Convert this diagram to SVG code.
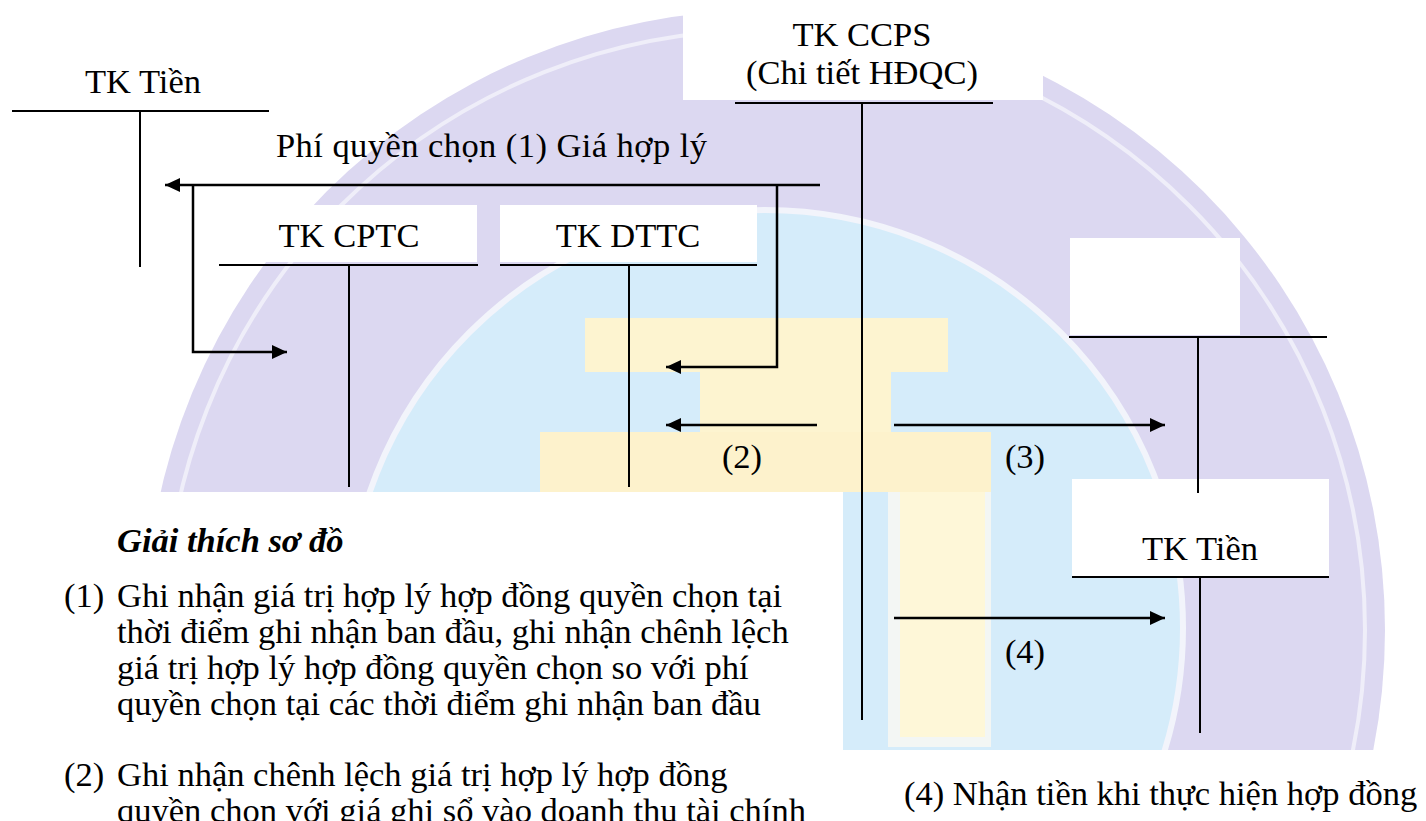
<svg xmlns="http://www.w3.org/2000/svg" width="1426" height="821" viewBox="0 0 1426 821">
<defs>
<style>
text{font-family:'Liberation Serif','Times New Roman',serif;font-size:34.5px;fill:#000}
.m{text-anchor:middle}
.bi{font-weight:bold;font-style:italic}
.ln{stroke:#000;stroke-width:2;fill:none}
.ar{stroke:#000;stroke-width:2.5;fill:none;marker-end:url(#ah)}
.wb{fill:#fff}
</style>
<marker id="ah" viewBox="0 0 15 14" refX="15" refY="7" markerWidth="15" markerHeight="14" markerUnits="userSpaceOnUse" orient="auto">
<path d="M0,0 L15,7 L0,14 z" fill="#000"/>
</marker>
<clipPath id="wmclip"><rect x="0" y="0" width="1426" height="750"/></clipPath>
</defs>
<rect x="0" y="0" width="1426" height="821" fill="#fff"/>
<g id="watermark" clip-path="url(#wmclip)">
<circle cx="765" cy="630" r="620" fill="#dcd8f1"/>
<circle cx="765" cy="630" r="600" fill="none" stroke="#efeef9" stroke-width="4"/>
<circle cx="765" cy="628" r="418" fill="#d5ecfa" stroke="#f2f4fb" stroke-width="6"/>
<rect x="585" y="318" width="363" height="54" fill="#fdf4d0"/>
<rect x="700" y="372" width="191" height="60" fill="#fdf4d0"/>
<rect x="540" y="432" width="451" height="60" fill="#fdf2cc"/>
<rect x="888" y="492" width="103" height="255" fill="#f3f6f4"/>
<rect x="900" y="492" width="85" height="245" fill="#fef7d8"/>
</g>
<g id="boxes">
<rect class="wb" x="0" y="492" width="843" height="329"/>
<rect class="wb" x="683" y="5" width="360" height="95"/>
<rect class="wb" x="218" y="205" width="259" height="57"/>
<rect class="wb" x="500" y="205" width="257" height="57"/>
<rect class="wb" x="1070" y="238" width="170" height="97"/>
<rect class="wb" x="1072" y="479" width="257" height="98"/>
</g>
<g id="tk-tien-left">
<text class="m" x="143" y="93">TK Tiền</text>
<path class="ln" d="M12,111 H269 M140,111 V267"/>
</g>
<g id="tk-cptc">
<text class="m" x="349" y="247">TK CPTC</text>
<path class="ln" d="M219,265 H478 M349,265 V487"/>
</g>
<g id="tk-dttc">
<text class="m" x="628" y="247">TK DTTC</text>
<path class="ln" d="M500,265 H757 M629,265 V487"/>
</g>
<g id="tk-ccps">
<text class="m" x="862" y="46">TK CCPS</text>
<text class="m" x="862" y="84">(Chi tiết HĐQC)</text>
<path class="ln" d="M735,103 H993 M862,103 V720"/>
</g>
<g id="tk-blank">
<path class="ln" d="M1069,337 H1327 M1198,337 V493"/>
</g>
<g id="tk-tien-right">
<text class="m" x="1200" y="560">TK Tiền</text>
<path class="ln" d="M1072,577 H1329 M1200,577 V733"/>
</g>
<g id="connectors">
<path class="ar" d="M820,185 H165"/>
<path class="ar" d="M193,185 V352 H287"/>
<path class="ar" d="M777,185 V367 H666"/>
<path class="ar" d="M817,425 H666"/>
<path class="ar" d="M894,425 H1165"/>
<path class="ar" d="M894,618 H1165"/>
</g>
<g id="labels">
<text x="276" y="157" textLength="431" lengthAdjust="spacing">Phí quyền chọn (1) Giá hợp lý</text>
<text class="m" x="742" y="468">(2)</text>
<text class="m" x="1025" y="468">(3)</text>
<text class="m" x="1025" y="663">(4)</text>
</g>
<g id="explanation">
<text class="bi" x="117" y="552">Giải thích sơ đồ</text>
<text x="64" y="607">(1)</text>
<text x="117" y="607">Ghi nhận giá trị hợp lý hợp đồng quyền chọn tại</text>
<text x="117" y="643">thời điểm ghi nhận ban đầu, ghi nhận chênh lệch</text>
<text x="117" y="679">giá trị hợp lý hợp đồng quyền chọn so với phí</text>
<text x="117" y="715">quyền chọn tại các thời điểm ghi nhận ban đầu</text>
<text x="64" y="786">(2)</text>
<text x="117" y="786">Ghi nhận chênh lệch giá trị hợp lý hợp đồng</text>
<text x="117" y="822">quyền chọn với giá ghi sổ vào doanh thu tài chính</text>
<text x="904" y="805">(4) Nhận tiền khi thực hiện hợp đồng</text>
</g>
</svg>
